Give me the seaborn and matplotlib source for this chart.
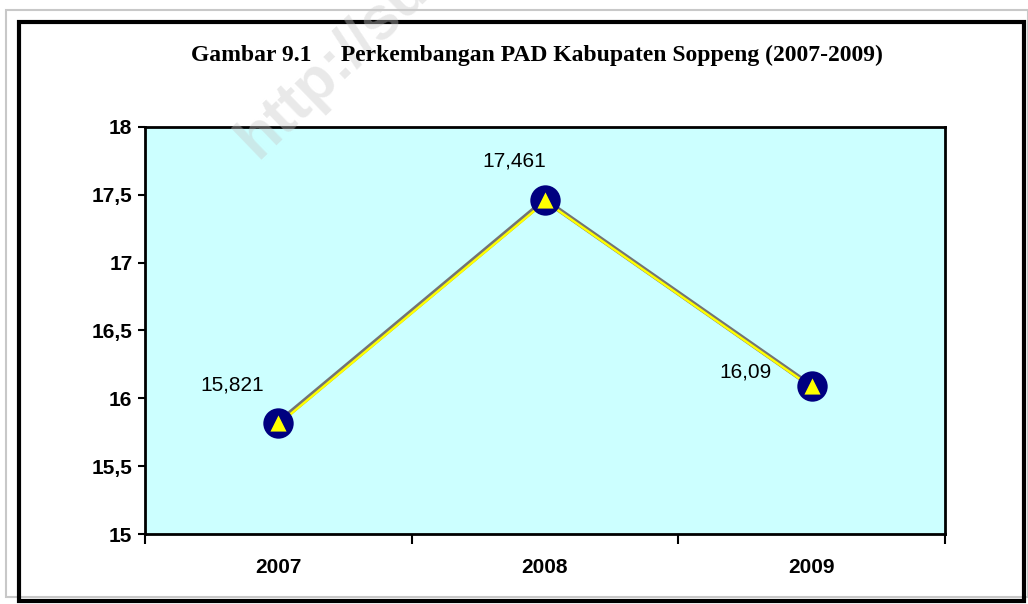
import matplotlib
matplotlib.use("Agg")
import matplotlib.pyplot as plt
import matplotlib.transforms as mtransforms
from matplotlib.patches import Rectangle
import seaborn as sns
import numpy as np
import pandas as pd

# ----------- Data -----------
years = ["2007", "2008", "2009"]
pad = [15.821, 17.461, 16.09]
pad_labels = ["15,821", "17,461", "16,09"]
y_ticks = [15, 15.5, 16, 16.5, 17, 17.5, 18]
y_tick_labels = ["15", "15,5", "16", "16,5", "17", "17,5", "18"]
title = "Gambar 9.1     Perkembangan PAD Kabupaten Soppeng (2007-2009)"

df = pd.DataFrame({"pos": np.arange(len(years)), "tahun": years, "nilai": pad})

# ----------- Plot -----------
sns.set_style("white")
plt.rcParams['font.family'] = ['Liberation Sans', 'DejaVu Sans']
plt.rcParams['text.color'] = 'black'
plt.rcParams['xtick.color'] = 'black'
plt.rcParams['ytick.color'] = 'black'

W, H = 1028, 604
fig = plt.figure(figsize=(W / 100, H / 100), dpi=100)

# frames around the chart
fig.patches.append(Rectangle((6 / W, 7 / H), (W - 6) / W, (594 - 7) / H,
                             transform=fig.transFigure, fill=False,
                             edgecolor="#c8c8c8", lw=1.5, zorder=0))
fig.patches.append(Rectangle((19 / W, 3 / H), (1024 - 19) / W, (582 - 3) / H,
                             transform=fig.transFigure, fill=False,
                             edgecolor="black", lw=3, zorder=1))

ax = fig.add_axes([145 / W, (H - 534) / H, (945 - 145) / W, (534 - 127) / H])
ax.set_facecolor("#ccffff")

# gray textured line with the yellow line just below it
sns.lineplot(data=df, x="pos", y="nilai", ax=ax, color="#747474", lw=3.5, zorder=3)
off = mtransforms.offset_copy(ax.transData, fig=fig, x=0.3, y=-1.0, units="points")
ax.plot(df["pos"], df["nilai"], color="#ffff00", lw=1.8, transform=off, zorder=4)

sns.scatterplot(data=df, x="pos", y="nilai", ax=ax, s=410, color="#000080",
                edgecolor="#000080", zorder=5, legend=False)
sns.scatterplot(data=df, x="pos", y="nilai", ax=ax, s=135, marker="^",
                color="#ffff00", edgecolor="#ffff00", linewidth=0, zorder=6,
                legend=False)

# data labels
label_offsets = [(-33, 27), (-22, 28), (-47.5, 10)]
for i, (v, lab) in enumerate(zip(pad, pad_labels)):
    dx, dy = label_offsets[i]
    ax.annotate(lab, (i, v), xytext=(dx, dy), textcoords="offset points",
                ha="center", va="center", fontsize=15, color="black", zorder=7)

ax.set_xlim(-0.5, 2.5)
ax.set_ylim(15, 18)
ax.set_yticks(y_ticks)
ax.set_yticklabels(y_tick_labels, fontsize=15, fontweight="bold")
ax.set_xticks([-0.5, 0.5, 1.5, 2.5])
ax.set_xticklabels([])
ax.set_xticks([0, 1, 2], minor=True)
ax.set_xticklabels(years, minor=True, fontsize=15, fontweight="bold")
ax.tick_params(axis="x", which="major", direction="out", length=7, width=1.5,
               color="black", bottom=True)
ax.tick_params(axis="x", which="minor", length=0, pad=17)
ax.tick_params(axis="y", direction="out", length=5, width=1.5, color="black",
               left=True, pad=4)
ax.set_xlabel("")
ax.set_ylabel("")
for s in ax.spines.values():
    s.set_visible(True)
    s.set_color("black")
    s.set_linewidth(2)

fig.text(537 / W, 1 - 55 / H, title, ha="center", va="center", color="black",
         fontsize=17, fontweight="bold", family="Liberation Serif", zorder=3)

# faint watermark
fig.text(258 / W, 1 - 160 / H, "http://sulsel.bps.go.id", rotation=44,
         fontsize=44, fontweight="bold", color="#c8c8c8", alpha=0.4,
         ha="left", va="baseline", zorder=2, rotation_mode="anchor")

plt.savefig("out.png", dpi=100)
